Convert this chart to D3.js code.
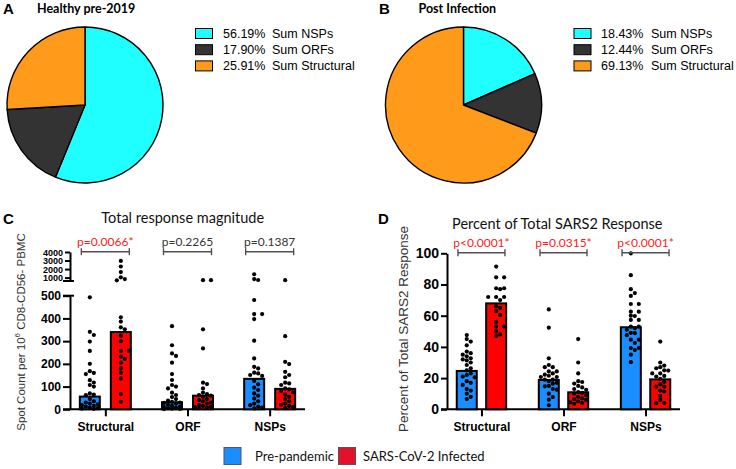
<!DOCTYPE html>
<html><head><meta charset="utf-8">
<script src="https://cdn.jsdelivr.net/npm/d3@7"></script>
<style>body{margin:0;background:#fff}svg{display:block}</style>
</head><body><svg id="c" width="736" height="469"></svg>
<script>
// ---------- DATA ----------
const pieLabels = ["Sum NSPs", "Sum ORFs", "Sum Structural"];
const pieHealthy = [56.19, 17.90, 25.91];
const piePost = [18.43, 12.44, 69.13];
const pieColors = ["#1fffff", "#333333", "#ff9a1a"];

const categories = ["Structural", "ORF", "NSPs"];
const groups = ["Pre-pandemic", "SARS-CoV-2 Infected"];
const groupColors = ["#1a8dff", "#ff0000"];
const legendColors = ["#1a8dff", "#e3122b"];

// Panel C: total response magnitude (spot count)
const magBarPre = [56, 31, 134];
const magBarInf = [340, 60, 90];
const magDotsPreStructural = [493, 341, 327, 298, 257, 200, 168, 160, 155, 128, 118, 107, 100, 70, 65, 62, 45, 35, 30, 25, 22, 18, 15, 12, 8, 5, 3, 2];
const magDotsInfStructural = [2950, 2300, 1650, 1030, 830, 680, 405, 386, 361, 352, 324, 300, 257, 257, 232, 222, 205, 180, 161, 136, 67, 33];
const magDotsPreORF = [366, 282, 246, 235, 205, 155, 129, 107, 100, 92, 73, 63, 54, 45, 38, 33, 30, 28, 25, 20, 15, 12, 10, 8, 5, 3, 2, 1];
const magDotsInfORF = [700, 700, 352, 268, 117, 111, 92, 73, 67, 63, 60, 55, 45, 40, 35, 30, 25, 20, 15, 12, 10, 8, 5];
const magDotsPreNSPs = [1390, 830, 720, 481, 419, 419, 397, 302, 224, 187, 180, 161, 158, 151, 147, 125, 110, 95, 85, 70, 60, 48, 35, 25, 18, 12, 8, 4];
const magDotsInfNSPs = [700, 322, 209, 199, 165, 151, 141, 117, 114, 107, 92, 88, 80, 75, 65, 55, 45, 35, 25, 20, 15, 10, 5];
const magPValues = ["p=0.0066*", "p=0.2265", "p=0.1387"];
const magPSignificant = [true, false, false];
const magLowerTicks = [0, 100, 200, 300, 400, 500];
const magUpperTicks = [1000, 2000, 3000, 4000];

// Panel D: percent of total SARS2 response
const pctBarPre = [24.6, 18.8, 52.6];
const pctBarInf = [67.9, 10.9, 19.2];
const pctDotsPreStructural = [47.6, 45, 43.4, 41, 37, 36, 35, 34, 32.7, 32, 31.3, 30, 28.4, 26.3, 25, 23, 22, 21, 20.5, 18, 17, 15.6, 13, 12, 10, 8, 6.6];
const pctDotsInfStructural = [91.5, 84.6, 84.6, 77.6, 77.6, 77, 72, 72, 72, 70, 66, 65, 63, 60.5, 56, 53, 53, 50, 48, 47];
const pctDotsPreORF = [64, 52.3, 32.7, 28.4, 27, 27, 24.3, 24.3, 23, 22.2, 21.5, 20.7, 20.7, 19, 19, 18, 17, 16.4, 15, 14.7, 13, 12.6, 10, 7.9, 6.2, 2.6];
const pctDotsInfORF = [45, 30, 23, 18, 17.5, 16.5, 15, 14, 13, 12.5, 11, 10.5, 10, 9, 8, 7, 6.5, 6, 5, 4.5, 4, 3.5];
const pctDotsPreNSPs = [100, 86, 77, 74.5, 72.7, 67.5, 67.5, 62.6, 62.6, 60, 59.8, 57.3, 57.3, 53, 53, 52, 51, 49, 48.8, 47.5, 44.6, 44.6, 42.5, 39.3, 39.3, 38, 35, 30.2];
const pctDotsInfNSPs = [43.4, 30, 28, 27, 26.3, 25, 24.8, 23, 23, 21.4, 21, 19.5, 17.6, 16, 14.5, 14.5, 12, 11.4, 8.6, 6, 4, 3.9];
const pctPValues = ["p<0.0001*", "p=0.0315*", "p<0.0001*"];
const pctPSignificant = [true, true, true];
const pctTicks = [0, 20, 40, 60, 80, 100];

// ---------- DRAW ----------
const svg = d3.select("#c");
const SANS = "Arial, 'Liberation Sans', sans-serif";
const CAL = "Lato, 'Open Sans', sans-serif";

function panelLetter(t, x, y) {
  svg.append("text").attr("x", x).attr("y", y).text(t)
    .attr("font-family", SANS).attr("font-weight", "bold").attr("font-size", 15).attr("fill", "#000");
}

// ---- Pies ----
function drawPie(values, cx, cy, r, legX, pctX, labX, legY, title, titleX, letter, letterX) {
  panelLetter(letter, letterX, 14);
  svg.append("text").attr("x", titleX).attr("y", 13).text(title)
    .attr("font-family", CAL).attr("font-weight", "bold").attr("font-size", 12.5).attr("fill", "#000");
  const arcs = d3.pie().sort(null).value(d => d)(values);
  const arc = d3.arc().innerRadius(0).outerRadius(r);
  const g = svg.append("g").attr("transform", `translate(${cx},${cy})`);
  g.selectAll("path").data(arcs).join("path")
    .attr("d", arc).attr("fill", (d, i) => pieColors[i])
    .attr("stroke", "#000").attr("stroke-width", 1.4).attr("stroke-linejoin", "round");
  const lg = svg.append("g");
  values.forEach((v, i) => {
    const y = legY + i * 16.2;
    lg.append("rect").attr("x", legX).attr("y", y - 5).attr("width", 17).attr("height", 10)
      .attr("fill", pieColors[i]).attr("stroke", "#000").attr("stroke-width", 1);
    lg.append("text").attr("x", pctX).attr("y", y).attr("dy", "0.35em")
      .text(v.toFixed(2) + "%").attr("font-family", SANS).attr("font-size", 12.5).attr("fill", "#000");
    lg.append("text").attr("x", labX).attr("y", y).attr("dy", "0.35em")
      .text(pieLabels[i]).attr("font-family", SANS).attr("font-size", 12.5).attr("fill", "#000");
  });
}
drawPie(pieHealthy, 85, 105, 78, 195.5, 223, 272, 33.5, "Healthy pre-2019", 37, "A", 3);
drawPie(piePost, 463.5, 105, 78, 574, 601, 651, 33.5, "Post Infection", 418.5, "B", 379);

// ---- Beeswarm helper ----
function swarm(vals, yOf, cx, r, maxOff) {
  const pts = vals.map(v => ({ v, y: yOf(v) })).sort((a, b) => a.y - b.y);
  const placed = [];
  const step = r * 1.9;
  const offs = [0];
  for (let k = 1; k * step <= maxOff + 0.01; k++) offs.push(k * step, -k * step);
  pts.forEach(p => {
    let best = null, bestD = -1;
    for (const o of offs) {
      const x = cx + o;
      let md = Infinity;
      for (const q of placed) md = Math.min(md, Math.hypot(q.x - x, q.y - p.y));
      if (md >= 2 * r - 0.2) { best = o; break; }
      if (md > bestD) { bestD = md; best = o; }
    }
    p.x = cx + best;
    placed.push(p);
  });
  return placed;
}

function drawBracketsAndP(xScale, half, yBr, yP, labels, sig) {
  categories.forEach((c, i) => {
    const cx = xScale(c);
    const g = svg.append("g").attr("stroke", "#505050").attr("stroke-width", 1.4);
    g.append("line").attr("x1", cx - half).attr("x2", cx + half).attr("y1", yBr).attr("y2", yBr);
    g.append("line").attr("x1", cx - half).attr("x2", cx - half).attr("y1", yBr - 3.5).attr("y2", yBr + 3.5);
    g.append("line").attr("x1", cx + half).attr("x2", cx + half).attr("y1", yBr - 3.5).attr("y2", yBr + 3.5);
    svg.append("text").attr("x", cx).attr("y", yP).attr("text-anchor", "middle").text(labels[i])
      .attr("font-family", CAL).attr("font-size", 12).attr("fill", sig[i] ? "#ff1a1a" : "#333");
  });
}

function styleAxis(g, fs) {
  g.select(".domain").attr("stroke", "#000").attr("stroke-width", 2);
  g.selectAll(".tick line").attr("stroke", "#000").attr("stroke-width", 2);
  g.selectAll(".tick text").attr("font-family", SANS).attr("font-weight", "bold").attr("font-size", fs).attr("fill", "#000");
}

// ---- Panel C ----
{
  panelLetter("C", 3, 224);
  svg.append("text").attr("x", 182.7).attr("y", 223).attr("text-anchor", "middle").text("Total response magnitude")
    .attr("font-family", CAL).attr("font-size", 14.5).attr("fill", "#111");
  const axX = 70;
  const yLow = d3.scaleLinear().domain([0, 500]).range([409.3, 295.7]);
  const yUp = d3.scaleLinear().domain([600, 4000]).range([281, 252]);
  const yOf = v => v > 500 ? yUp(v) : yLow(v);
  const x = d3.scalePoint().domain(categories).range([axX, 305]).padding(0.43);
  const off = 15.5, bw = 20;

  const ga = svg.append("g").attr("transform", `translate(${axX},0)`)
    .call(d3.axisLeft(yLow).tickValues(magLowerTicks).tickSize(7).tickSizeOuter(0).tickPadding(2));
  styleAxis(ga, 12);
  const gu = svg.append("g").attr("transform", `translate(${axX},0)`)
    .call(d3.axisLeft(yUp).tickValues(magUpperTicks).tickSize(5).tickSizeOuter(0).tickPadding(2).tickFormat(d3.format("d")));
  styleAxis(gu, 9);
  gu.selectAll(".tick text").attr("dy", "0.36em");
  // break caps
  [yLow(500), yUp(600)].forEach(yy => {
    svg.append("line").attr("x1", axX - 7).attr("x2", axX + 4).attr("y1", yy).attr("y2", yy)
      .attr("stroke", "#000").attr("stroke-width", 2);
  });
  // x axis
  const gx = svg.append("g").attr("transform", `translate(0,${yLow(0)})`)
    .call(d3.axisBottom(x).tickSize(7).tickSizeOuter(0).tickPadding(6));
  gx.select(".domain").attr("d", `M${axX - 7},0H305`);
  styleAxis(gx, 12);

  const dotSets = [[magDotsPreStructural, magDotsInfStructural], [magDotsPreORF, magDotsInfORF], [magDotsPreNSPs, magDotsInfNSPs]];
  categories.forEach((c, i) => {
    [magBarPre[i], magBarInf[i]].forEach((v, gi) => {
      const cx = x(c) + (gi === 0 ? -off : off);
      svg.append("rect").attr("x", cx - bw / 2).attr("y", yLow(v)).attr("width", bw).attr("height", yLow(0) - yLow(v))
        .attr("fill", groupColors[gi]).attr("stroke", "#000").attr("stroke-width", 2);
      const pts = swarm(dotSets[i][gi], yOf, cx, 2.1, 8);
      svg.append("g").selectAll("circle").data(pts).join("circle")
        .attr("cx", d => d.x).attr("cy", d => d.y).attr("r", 2.1).attr("fill", "#000");
    });
  });
  // y title
  const t = svg.append("text").attr("transform", `translate(21,332) rotate(-90)`).attr("text-anchor", "middle")
    .attr("dominant-baseline", "central").attr("font-family", SANS).attr("font-size", 11.5).attr("fill", "#333");
  t.append("tspan").text("Spot Count per 10");
  t.append("tspan").text("6").attr("font-size", 8).attr("dy", -4);
  t.append("tspan").text(" CD8-CD56- PBMC").attr("dy", 4);

  drawBracketsAndP(x, 24, 251.7, 246, magPValues, magPSignificant);
}

// ---- Panel D ----
{
  panelLetter("D", 378, 224);
  svg.append("text").attr("x", 557.3).attr("y", 229).attr("text-anchor", "middle").text("Percent of Total SARS2 Response")
    .attr("font-family", CAL).attr("font-size", 14.5).attr("fill", "#111");
  const axX = 447;
  const y = d3.scaleLinear().domain([0, 100]).range([409.3, 253.3]);
  const x = d3.scalePoint().domain(categories).range([axX, 680]).padding(0.42);
  const off = 14.7, bw = 20;
  const ga = svg.append("g").attr("transform", `translate(${axX},0)`)
    .call(d3.axisLeft(y).tickValues(pctTicks).tickSize(6).tickSizeOuter(0).tickPadding(2));
  styleAxis(ga, 14);
  const gx = svg.append("g").attr("transform", `translate(0,${y(0)})`)
    .call(d3.axisBottom(x).tickSize(7).tickSizeOuter(0).tickPadding(6));
  gx.select(".domain").attr("d", `M${axX - 6},0H680`);
  styleAxis(gx, 12);

  const dotSets = [[pctDotsPreStructural, pctDotsInfStructural], [pctDotsPreORF, pctDotsInfORF], [pctDotsPreNSPs, pctDotsInfNSPs]];
  categories.forEach((c, i) => {
    [pctBarPre[i], pctBarInf[i]].forEach((v, gi) => {
      const cx = x(c) + (gi === 0 ? -off : off);
      svg.append("rect").attr("x", cx - bw / 2).attr("y", y(v)).attr("width", bw).attr("height", y(0) - y(v))
        .attr("fill", groupColors[gi]).attr("stroke", "#000").attr("stroke-width", 2);
      const pts = swarm(dotSets[i][gi], y, cx, 2.1, 8);
      svg.append("g").selectAll("circle").data(pts).join("circle")
        .attr("cx", d => d.x).attr("cy", d => d.y).attr("r", 2.1).attr("fill", "#000");
    });
  });
  svg.append("text").attr("transform", `translate(403,329) rotate(-90)`).attr("text-anchor", "middle")
    .attr("dominant-baseline", "central").attr("font-family", SANS).attr("font-size", 13.5).attr("fill", "#333")
    .text("Percent of Total SARS2 Response");

  drawBracketsAndP(x, 23.5, 252.7, 247, pctPValues, pctPSignificant);
}

// ---- Bottom legend ----
{
  const items = [[224, 255], [338.5, 363]];
  groups.forEach((gname, i) => {
    svg.append("rect").attr("x", items[i][0]).attr("y", 447.5).attr("width", 17).attr("height", 17)
      .attr("fill", legendColors[i]).attr("stroke", "#555").attr("stroke-width", 1);
    svg.append("text").attr("x", items[i][1]).attr("y", 456).attr("dy", "0.35em").text(gname)
      .attr("font-family", CAL).attr("font-size", 13).attr("fill", "#111");
  });
}
</script></body></html>
